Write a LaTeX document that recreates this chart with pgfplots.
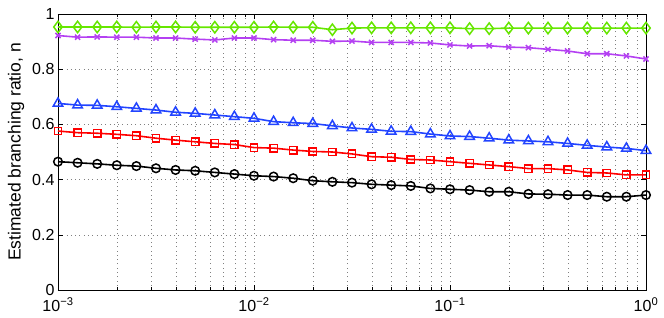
\documentclass[border=0pt]{standalone}
\usepackage{fontspec}
\setmainfont{Liberation Sans}
\usepackage{pgfplots}
\usepackage{pgfplotstable}
\pgfplotsset{compat=1.18}
\definecolor{mgreen}{RGB}{102,230,0}
\definecolor{mmag}{RGB}{180,64,242}
\definecolor{mblue}{RGB}{34,68,255}
\definecolor{mred}{RGB}{255,0,0}
\pgfplotstableread{
x         black  red    blue   mag    green
0.001     0.465  0.576  0.676  0.922  0.953
0.0012589 0.461  0.570  0.670  0.916  0.953
0.0015849 0.457  0.568  0.669  0.917  0.953
0.0019953 0.452  0.564  0.664  0.916  0.953
0.0025119 0.449  0.559  0.658  0.916  0.952
0.0031623 0.441  0.550  0.652  0.913  0.953
0.0039811 0.435  0.543  0.644  0.913  0.953
0.0050119 0.432  0.537  0.640  0.909  0.952
0.0063096 0.426  0.531  0.634  0.906  0.952
0.0079433 0.420  0.527  0.628  0.913  0.952
0.01      0.414  0.516  0.622  0.913  0.952
0.012589  0.411  0.514  0.610  0.907  0.953
0.015849  0.405  0.507  0.606  0.905  0.952
0.019953  0.396  0.502  0.603  0.905  0.952
0.025119  0.392  0.500  0.595  0.901  0.943
0.031623  0.389  0.493  0.587  0.902  0.949
0.039811  0.383  0.483  0.582  0.897  0.950
0.050119  0.380  0.481  0.575  0.897  0.950
0.063096  0.377  0.473  0.574  0.897  0.950
0.079433  0.368  0.471  0.565  0.895  0.950
0.1       0.365  0.465  0.558  0.888  0.950
0.12589   0.362  0.459  0.556  0.884  0.947
0.15849   0.356  0.453  0.550  0.885  0.947
0.19953   0.356  0.447  0.543  0.880  0.949
0.25119   0.348  0.440  0.540  0.878  0.949
0.31623   0.347  0.440  0.537  0.872  0.949
0.39811   0.344  0.435  0.531  0.866  0.949
0.50119   0.344  0.426  0.524  0.856  0.949
0.63096   0.338  0.424  0.518  0.856  0.949
0.79433   0.338  0.417  0.513  0.848  0.949
1         0.344  0.417  0.505  0.837  0.949
}\datatable
\begin{document}
\begin{tikzpicture}
\begin{axis}[
  at={(0,0)}, anchor=south west,
  scale only axis,
  width=588pt, height=276pt,
  xmode=log,
  xmin=0.001, xmax=1, ymin=0, ymax=1,
  xtick={0.001,0.01,0.1,1},
  xticklabels={10\textsuperscript{−3},10\textsuperscript{−2},10\textsuperscript{−1},10\textsuperscript{0}},
  ytick={0,0.2,0.4,0.6,0.8,1},
  yticklabels={0,0.2,0.4,0.6,0.8,1},
  tick align=inside,
  major tick length=5pt,
  minor tick length=3pt,
  tick style={black, line width=0.5pt},
  xmajorgrids, xminorgrids, ymajorgrids,
  grid style={black!50, line width=0.6pt, dash pattern=on 0.8pt off 3.5pt},
  axis line style={black, line width=0.7pt},
  tick label style={font=\fontsize{16}{18}\selectfont},
  xticklabel style={yshift=-4pt},
  ylabel={Estimated branching ratio, n},
  ylabel style={font=\fontsize{17.5}{19}\selectfont, at={(axis description cs:-0.0714,0.5)}, anchor=center},
  every axis plot/.append style={line width=1.6pt},
  mark options={solid, line width=1.5pt},
]
\addplot[black, mark=o, mark size=4.3pt] table[x=x,y=black] {\datatable};
\addplot[mred, mark=square, mark size=3.7pt] table[x=x,y=red] {\datatable};
\addplot[mblue, mark=triangle, mark size=5.5pt] table[x=x,y=blue] {\datatable};
\addplot[mmag, mark=x, mark size=3.6pt] table[x=x,y=mag] {\datatable};
\addplot[mgreen, mark=diamond, mark size=5.7pt] table[x=x,y=green] {\datatable};
\end{axis}
\pgfresetboundingbox
\path[use as bounding box] (-58pt,-27pt) rectangle (606pt,290pt);
\end{tikzpicture}
\end{document}
